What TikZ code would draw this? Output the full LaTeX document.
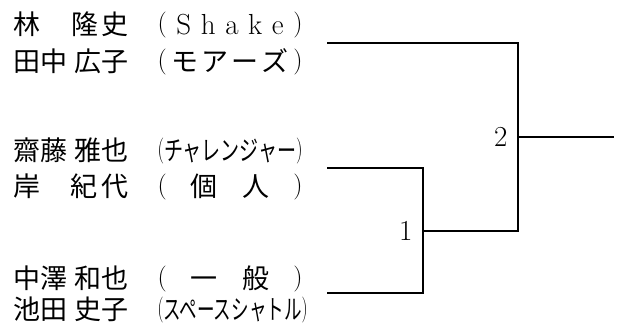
\documentclass[tikz,border=0pt]{standalone}
\usepackage{fontspec}
\usepackage{graphicx}
\usepackage{tikz}
\usetikzlibrary{positioning}
\newfontfamily\jpfont{Noto Sans CJK JP}
\newcommand{\lpar}{\raisebox{3pt}{\normalfont\fontsize{26}{26}\selectfont(}}
\newcommand{\rpar}{\raisebox{3pt}{\normalfont\fontsize{26}{26}\selectfont)}}
\newcommand{\teamline}[2]{\makebox[115pt][s]{#1}\hspace{29pt}#2}

\begin{document}
\begin{tikzpicture}[
            x = 1pt, y = -1pt, % pixel like units, y going down
            line width = 1.1pt, % line style
            node distance = 10pt % gap between round number and line
        ]

        \tikzstyle{player}=[
            anchor = base west,
            inner sep = 0pt,
            font = \jpfont\fontsize{27}{27}\selectfont
        ]
        \tikzstyle{round}=[
            inner sep = 0pt,
            font = \fontsize{29}{29}\selectfont
        ]

        \useasboundingbox (0,0) rectangle (618,329);

        % players
        \node[player] (P1) at (13,35) {\teamline{林\hfill 隆\hspace{3pt}史}{\makebox[145pt][s]{\normalfont\fontsize{29}{29}\selectfont\lpar\hfill S\hfill h\hfill a\hfill k\hfill e\hfill\rpar}}};
        \node[player] (P2) at (13,71) {\teamline{田中\hfill 広子}{\makebox[145pt][s]{\lpar\hfill モ\hspace{3pt}ア\hspace{3pt}ー\hspace{3pt}ズ\hfill\rpar}}};

        \node[player] (P3) at (13,160) {\teamline{齋藤\hfill 雅也}{\resizebox{145pt}{\height}{\lpar チャレンジャー\rpar}}};
        \node[player] (P4) at (13,196) {\teamline{岸\hfill 紀\hspace{4pt}代}{\makebox[145pt][s]{\lpar\hfill 個\hfill 人\hfill\rpar}}};

        \node[player] (P5) at (13,288) {\teamline{中澤\hfill 和也}{\makebox[145pt][s]{\lpar\hfill 一\hfill 般\hfill\rpar}}};
        \node[player] (P6) at (13,319) {\teamline{池田\hfill 史子}{\resizebox{150pt}{\height}{\lpar スペースシャトル\rpar}}};

        % bracket
        \coordinate (S1) at (327,43);
        \coordinate (S2) at (327,168);
        \coordinate (S3) at (327,293);
        \coordinate (M1) at (423,231);
        \coordinate (M2) at (518,137);
        \coordinate (W) at (614,137);

        \draw (S2) -| (M1);
        \draw (S3) -| (M1);
        \draw (M1) -| (M2);
        \draw (S1) -| (M2);
        \draw (M2) -- (W);

        % round numbers
        \node[round, left = of M1] (R1) {1};
        \node[round, left = of M2] (R2) {2};

  \end{tikzpicture}
\end{document}
